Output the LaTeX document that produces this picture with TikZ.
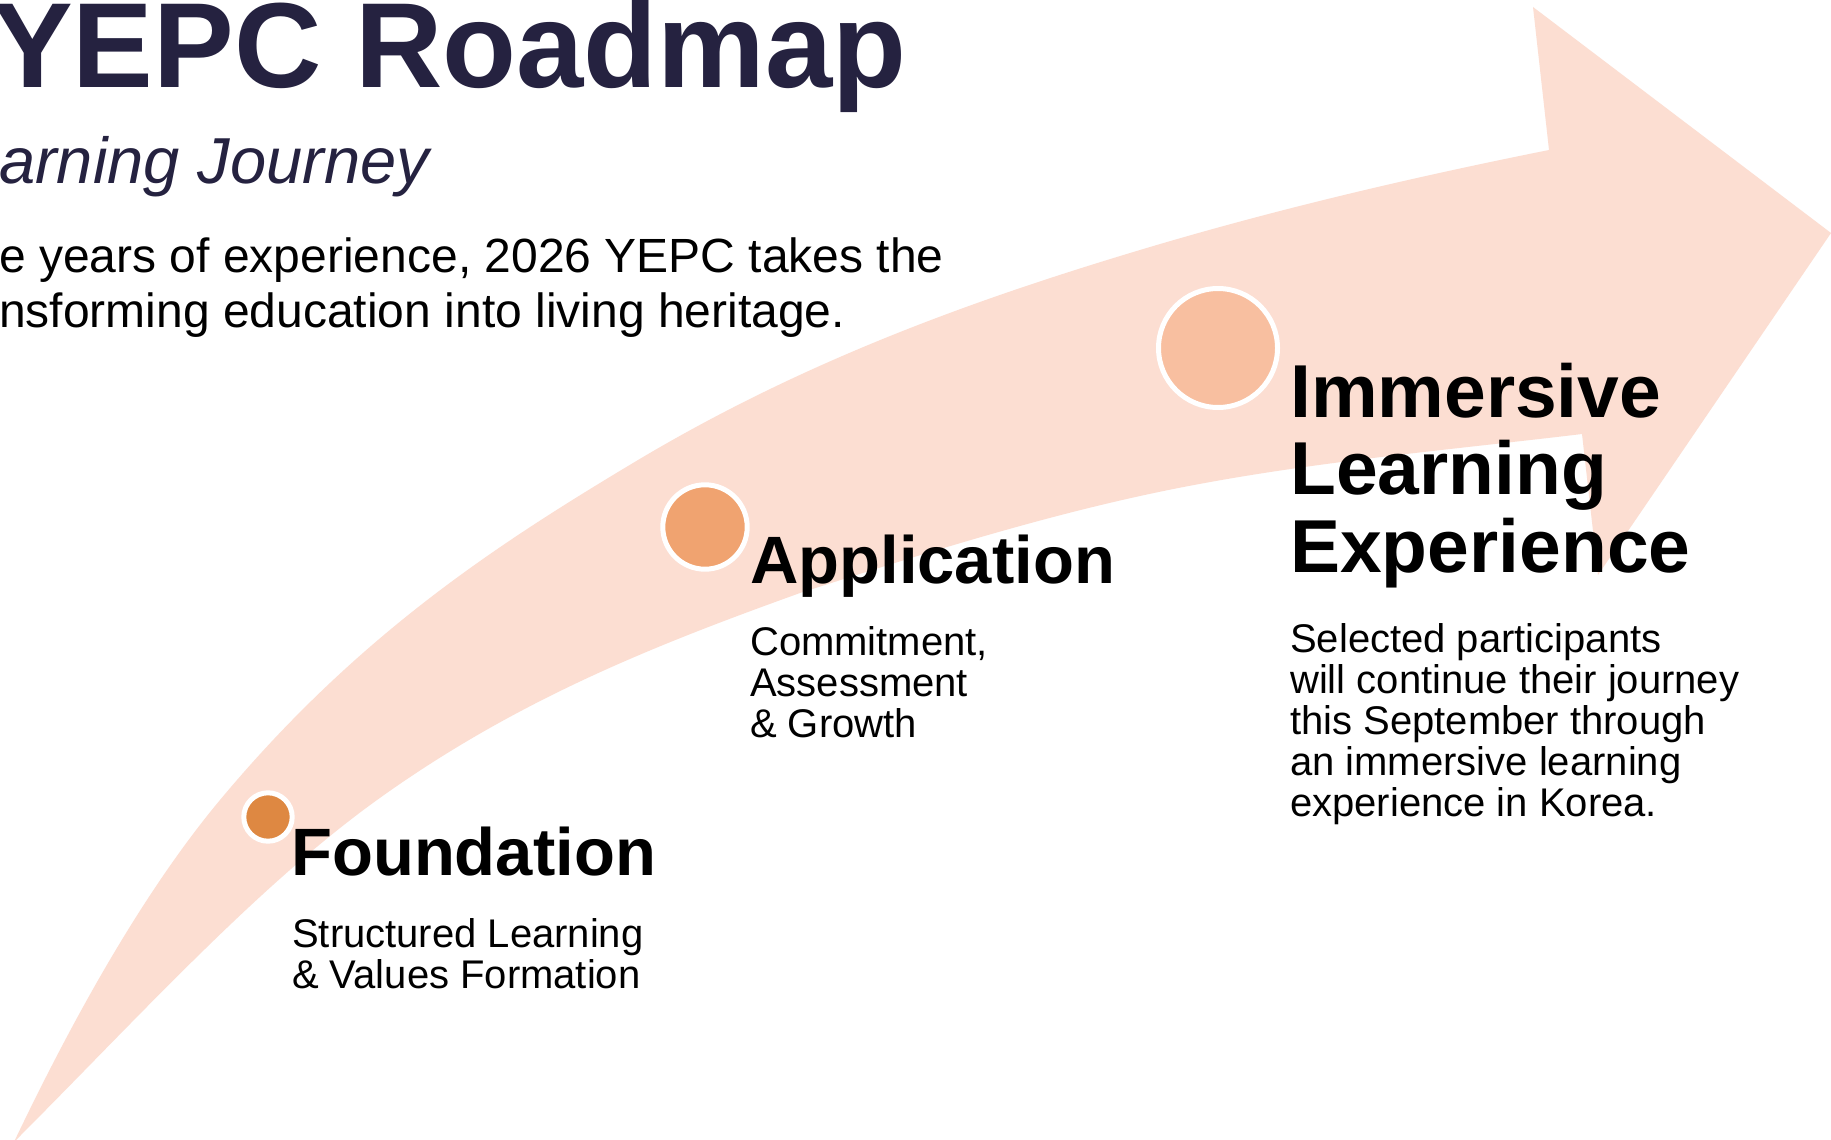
\documentclass[tikz,border=0pt]{standalone}
\usepackage{fontspec}
\setmainfont{Liberation Sans}
\definecolor{arrowpink}{RGB}{252,222,210}
\definecolor{navy}{RGB}{37,34,64}
\definecolor{dotF}{RGB}{222,136,66}
\definecolor{dotA}{RGB}{240,163,112}
\definecolor{dotI}{RGB}{248,191,160}
\begin{document}
\begin{tikzpicture}[x=1pt,y=-1pt,
  stagedot/.style={circle, draw=white, line width=5pt, inner sep=0pt, minimum size=#1},
  stagehead/.style={anchor=base west, inner sep=0pt, align=left, font=\fontsize{67}{77.5}\selectfont\bfseries},
  stagetext/.style={anchor=base west, inner sep=0pt, align=left, font=\fontsize{40}{41}\selectfont},
  txt/.style={anchor=base west, inner sep=0pt, align=left}
]
\useasboundingbox (0,0) rectangle (1831,1140);
\fill[white] (0,0) rectangle (1831,1140);
% curved arrow (multi-line text nodes: base = last line's baseline)
\fill[arrowpink] (14,1142)
  .. controls (82.7,998) and (151.3,882.4) .. (220,800)
  .. controls (357.7,635) and (495.3,545.6) .. (633,463)
  .. controls (802,361.6) and (971,300.7) .. (1140,250)
  .. controls (1276.3,209.1) and (1412.7,177.3) .. (1549,150)
  -- (1533,7) -- (1831,233) -- (1598,575) -- (1582,434)
  .. controls (1434.7,451.7) and (1287.3,463.6) .. (1140,496)
  .. controls (1026.7,520.9) and (913.3,556.7) .. (800,593)
  .. controls (659,643.8) and (518,698.5) .. (377,800)
  .. controls (256,887.1) and (135,1021) .. (14,1142) -- cycle;
% header
\node[txt, text=navy, font=\fontsize{121}{121}\selectfont\bfseries] (title) at (-8,88) {YEPC Roadmap};
\node[txt, text=navy, font=\fontsize{65}{65}\selectfont\itshape] (subtitle) at (-1,183) {arning Journey};
\node[txt, font=\fontsize{48}{55}\selectfont] (intro) at (-1,327) {e years of experience, 2026 YEPC takes the\\nsforming education into living heritage.};
% dots
\node[stagedot=48.4pt, fill=dotF] (dF) at (268,817) {};
\node[stagedot=84.4pt, fill=dotA] (dA) at (705,527) {};
\node[stagedot=119pt, fill=dotI] (dI) at (1218,348) {};
% stages
\node[stagehead] (hF) at (291,875) {Foundation};
\node[stagetext] (tF) at (292,988) {Structured Learning\\\& Values Formation};
\node[stagehead] (hA) at (750,583) {Application};
\node[stagetext] (tA) at (750,737) {Commitment,\\Assessment\\\& Growth};
\node[stagehead, font=\fontsize{75}{77.5}\selectfont\bfseries] (hI) at (1290,572) {Immersive\\Learning\\Experience};
\node[stagetext] (tI) at (1290,816) {Selected participants\\will continue their journey\\this September through\\an immersive learning\\experience in Korea.};
\end{tikzpicture}
\end{document}
